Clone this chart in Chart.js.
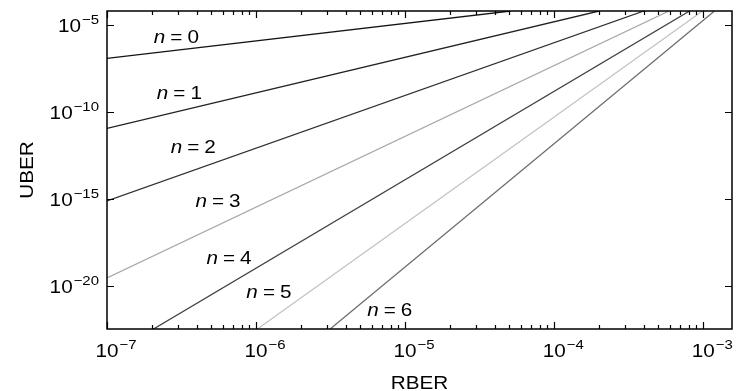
<!DOCTYPE html>
<html>
<head>
<meta charset="utf-8">
<script src="https://cdn.jsdelivr.net/npm/chart.js@4.4.1/dist/chart.umd.min.js"></script>
<style>
    html, body { margin: 0; padding: 0; background: #fff; }
    #wrap { width: 736px; height: 391px; }
</style>
</head>
<body>
<div id="wrap"><canvas id="uberChart"></canvas></div>
<script>
const nValues = [0, 1, 2, 3, 4, 5, 6];
const startRBER = [1e-7, 1e-7, 1e-7, 1e-7, 2.05e-7, 1.02e-6, 3.14e-6];
const startUBER = [1.15e-7, 1.10e-11, 7.6e-16, 2.9e-20, 3.4e-23, 3.4e-23, 3.4e-23];
const endRBER = [5.1e-5, 2.0e-4, 4.0e-4, 5.9e-4, 8.1e-4, 9.9e-4, 1.19e-3];
const endUBER = [6.1e-5, 6.1e-5, 6.1e-5, 6.1e-5, 6.1e-5, 6.1e-5, 6.1e-5];

// where the "n = ..." labels sit (data units: centre RBER, baseline UBER)
const labelRBER = [2.92e-7, 3.06e-7, 3.79e-7, 5.55e-7, 6.59e-7, 1.22e-6, 7.88e-6];
const labelUBER = [8.55e-7, 5.43e-10, 4.49e-13, 3.56e-16, 1.76e-19, 2.05e-21, 1.90e-22];

// axes
const xRange = [1e-7, 1.56e-3];
const yRange = [3.4e-23, 6.1e-5];
const xTickExp = [-7, -6, -5, -4, -3];
const yTickExp = [-5, -10, -15, -20];

const lineColors = ['#141414', '#222222', '#303030', '#a8a8a8', '#404040', '#c4c4c4', '#6e6e6e'];

const FONT = "'Liberation Sans', Arial, Helvetica, sans-serif";
const SX = 1.15; // the reference text is a bit wide

function wideText(ctx, txt, x, y, font, align) {
    ctx.save();
    ctx.font = font;
    ctx.translate(x, y);
    ctx.scale(SX, 1);
    ctx.textAlign = align || 'left';
    ctx.textBaseline = 'alphabetic';
    ctx.fillText(txt, 0, 0);
    ctx.restore();
}

function textWidth(ctx, txt, font) {
    ctx.font = font;
    return ctx.measureText(txt).width * SX;
}

function drawPower(ctx, exp, x, baseline, align) {
    const baseFont = '18px ' + FONT;
    const supFont = '13px ' + FONT;
    const sup = '\u2212' + Math.abs(exp);
    const wBase = textWidth(ctx, '10', baseFont);
    const wSup = textWidth(ctx, sup, supFont);
    let baseLeft;
    if (align === 'center') {
        baseLeft = x - wBase / 2;
    } else {
        baseLeft = x - wSup - 1 - wBase;
    }
    wideText(ctx, '10', baseLeft, baseline, baseFont);
    wideText(ctx, sup, baseLeft + wBase + 1, baseline - 8.5, supFont);
}

const axisPlugin = {
    id: 'axisPlugin',
    afterDraw(chart) {
        const ctx = chart.ctx;
        const {left, right, top, bottom} = chart.chartArea;
        const xs = chart.scales.x;
        const ys = chart.scales.y;
        ctx.save();
        ctx.fillStyle = '#000';
        ctx.strokeStyle = '#000';

        // frame
        ctx.lineWidth = 1.5;
        ctx.strokeRect(left, top, right - left, bottom - top);

        // x ticks, top and bottom, pointing inwards
        ctx.lineWidth = 1.2;
        ctx.beginPath();
        xTickExp.forEach(e => {
            for (let k = 1; k <= 9; k++) {
                const v = k * Math.pow(10, e);
                if (v > xs.max) break;
                const px = Math.round(xs.getPixelForValue(v)) + 0.5;
                const len = k === 1 ? 7 : 4;
                ctx.moveTo(px, bottom);
                ctx.lineTo(px, bottom - len);
                ctx.moveTo(px, top);
                ctx.lineTo(px, top + len);
            }
        });
        // y ticks, left and right
        yTickExp.forEach(e => {
            const py = Math.round(ys.getPixelForValue(Math.pow(10, e))) + 0.5;
            ctx.moveTo(left, py);
            ctx.lineTo(left + 7, py);
            ctx.moveTo(right, py);
            ctx.lineTo(right - 7, py);
        });
        ctx.stroke();

        // tick labels
        xTickExp.forEach(e => {
            drawPower(ctx, e, xs.getPixelForValue(Math.pow(10, e)), bottom + 28, 'center');
        });
        yTickExp.forEach(e => {
            drawPower(ctx, e, left - 8, ys.getPixelForValue(Math.pow(10, e)) + 7.5, 'right');
        });

        // axis titles
        wideText(ctx, 'RBER', (left + right) / 2, 389, '18px ' + FONT, 'center');
        ctx.save();
        ctx.translate(33, (top + bottom) / 2);
        ctx.rotate(-Math.PI / 2);
        ctx.scale(SX, 1);
        ctx.font = '18px ' + FONT;
        ctx.textAlign = 'center';
        ctx.textBaseline = 'alphabetic';
        ctx.fillText('UBER', 0, 0);
        ctx.restore();

        // "n = k" labels
        const italic = 'italic 18px ' + FONT;
        const plain = '18px ' + FONT;
        const gap = 5;
        nValues.forEach((n, i) => {
            const cx = xs.getPixelForValue(labelRBER[i]);
            const by = ys.getPixelForValue(labelUBER[i]);
            const wn = textWidth(ctx, 'n', italic);
            const we = textWidth(ctx, '=', plain);
            const wd = textWidth(ctx, String(n), plain);
            let x0 = cx - (wn + gap + we + gap + wd) / 2;
            wideText(ctx, 'n', x0, by, italic);
            x0 += wn + gap;
            wideText(ctx, '=', x0, by, plain);
            x0 += we + gap;
            wideText(ctx, String(n), x0, by, plain);
        });
        ctx.restore();
    }
};

const ctx = document.getElementById('uberChart').getContext('2d');
const uberChart = new Chart(ctx, {
    type: 'line',
    data: {
        datasets: nValues.map((n, i) => ({
            label: 'n = ' + n,
            data: [
                {x: startRBER[i], y: startUBER[i]},
                {x: endRBER[i], y: endUBER[i]}
            ],
            borderColor: lineColors[i],
            borderWidth: 1.3,
            pointRadius: 0,
            fill: false,
            tension: 0
        }))
    },
    options: {
        responsive: true,
        maintainAspectRatio: false,
        animation: false,
        layout: {
            padding: {left: 107, right: 4, top: 11, bottom: 62}
        },
        plugins: {
            legend: {display: false},
            tooltip: {enabled: false}
        },
        scales: {
            x: {type: 'logarithmic', min: xRange[0], max: xRange[1], display: false},
            y: {type: 'logarithmic', min: yRange[0], max: yRange[1], display: false}
        }
    },
    plugins: [axisPlugin]
});
</script>
</body>
</html>
